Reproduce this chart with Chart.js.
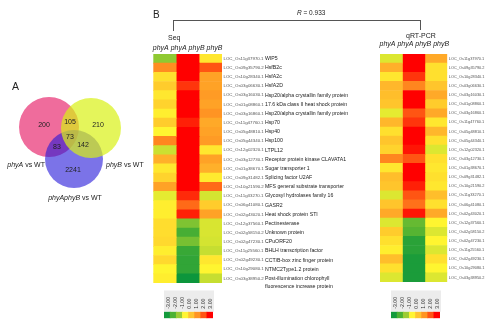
<!DOCTYPE html>
<html>
<head>
<meta charset="utf-8">
<title>phy mutant DEGs</title>
<script src="https://cdn.jsdelivr.net/npm/chart.js@4.4.0/dist/chart.umd.min.js"></script>
<style>
  body { margin: 0; width: 500px; height: 329px; overflow: hidden; background: #fff; position: relative;
         font-family: "Liberation Sans", Arial, sans-serif; color: #222; }
  canvas { position: absolute; }
  .txt { position: absolute; white-space: nowrap; line-height: 1; transform: translateY(-50%); }
  .line { position: absolute; background: #555; }
</style>
</head>
<body>
<canvas id="venn" width="150" height="150" style="left:0;top:60px"></canvas>
<canvas id="seqHeat" width="240" height="270" style="left:140px;top:25px"></canvas>
<canvas id="qpcrHeat" width="130" height="270" style="left:370px;top:25px"></canvas>
<canvas id="seqScale" width="57" height="36" style="left:160px;top:286px"></canvas>
<canvas id="qpcrScale" width="57" height="36" style="left:387px;top:286px"></canvas>

<div class="txt" style="left:12px;top:86px;font-size:10.5px">A</div>
<div class="txt" style="left:153px;top:15px;font-size:10px">B</div>
<div class="txt" style="left:297px;top:13px;font-size:6.5px"><i>R</i> = 0.933</div>
<div class="txt" style="left:168px;top:37px;font-size:7px">Seq</div>
<div class="txt" style="left:406px;top:35px;font-size:7px">qRT-PCR</div>
<div class="line" style="left:173px;top:20px;width:248px;height:1px"></div>
<div class="line" style="left:173px;top:20px;width:1px;height:11px"></div>
<div class="line" style="left:420px;top:20px;width:1px;height:10px"></div>

<script>
// Venn diagram: overlaps of differentially expressed genes
const vennSets = ['phyA vs WT', 'phyB vs WT', 'phyAphyB vs WT'];
const vennRegions = ['phyA only', 'phyA+phyB', 'phyB only', 'all three', 'phyA+phyAphyB', 'phyB+phyAphyB', 'phyAphyB only'];
const vennCounts = [200, 105, 210, 73, 83, 142, 2241];

// Genes shown in the heatmaps
const locusIds = [
  'LOC_Os11g37970.1', 'LOC_Os09g35790.2', 'LOC_Os10g28340.1', 'LOC_Os03g06630.1', 'LOC_Os03g16030.1',
  'LOC_Os01g08860.1', 'LOC_Os03g16860.1', 'LOC_Os11g47760.1', 'LOC_Os05g48810.1', 'LOC_Os05g44340.1',
  'LOC_Os12g02320.1', 'LOC_Os03g12730.1', 'LOC_Os01g38670.1', 'LOC_Os09g31482.1', 'LOC_Os10g21590.2',
  'LOC_Os11g33270.1', 'LOC_Os06g41080.1', 'LOC_Os02g43020.1', 'LOC_Os12g37560.1', 'LOC_Os02g58150.2',
  'LOC_Os02g47230.1', 'LOC_Os11g25560.1', 'LOC_Os02g49230.1', 'LOC_Os10g29080.1', 'LOC_Os03g38950.2'
];
const geneNames = [
  'WIP5', 'HsfB2c', 'HsfA2c', 'HsfA2D', 'Hsp20/alpha crystallin family protein',
  '17.6 kDa class II heat shock protein', 'Hsp20/alpha crystallin family protein', 'Hsp70', 'Hsp40', 'Hsp100',
  'LTPL12', 'Receptor protein kinase CLAVATA1', 'Sugar transporter 1', 'Splicing factor U2AF', 'MFS general substrate transporter',
  'Glycosyl hydrolases family 16', 'GASR2', 'Heat shock protein STI', 'Pectinesterase', 'Unknown protein',
  'CPuORF20', 'BHLH transcription factor', 'CCT/B-box zinc finger protein', 'NTMC2Type1.2 protein',
  ['Post-illumination chlorophyll', 'fluorescence increase protein']
];
const conditions = ['phyA', 'phyA phyB', 'phyB'];

// log2 fold change vs WT (RNA-seq)
const seqPhyA     = [-1.3, 1.5, 0.3, 0.6, 0.2, 0.5, 0.1, 0.6, 0.0, 1.6, -0.6, 1.0, 0.2, 0.5, 1.2, -0.3, 0.1, 0.1, 0.35, 0.35, 0.4, 0.1, 0.4, 0.0, 0.1];
const seqPhyAphyB = [3.0, 3.0, 3.0, 2.5, 3.0, 3.0, 3.0, 2.7, 3.0, 3.0, 3.0, 3.0, 3.0, 3.0, 3.0, 2.6, 2.0, 2.7, -1.5, -2.2, -1.6, -2.4, -2.5, -2.5, -3.0];
const seqPhyB     = [0.2, 2.2, 1.2, 1.2, 1.3, 1.2, 1.4, 1.1, 1.2, 1.3, 0.2, 1.2, 1.0, 0.15, 2.0, -0.5, 0.6, 1.2, -0.45, -0.45, -0.5, -0.65, 0.2, 0.0, -0.65];

// log2 fold change vs WT (qRT-PCR)
const qpcrPhyA     = [-0.4, 1.0, 0.2, 0.9, 0.8, 0.7, -0.3, 0.9, 0.3, 0.7, 0.5, 1.6, 0.2, 0.8, 0.7, -0.4, 0.7, 1.1, -0.4, 0.6, 0.3, 0.1, 0.8, 0.3, -0.4];
const qpcrPhyAphyB = [3.0, 3.0, 2.5, 1.6, 3.0, 3.0, 2.2, 2.5, 3.0, 3.0, 2.8, 2.2, 3.0, 3.0, 2.7, 2.2, 1.9, 2.8, -1.8, -2.0, -2.6, -2.6, -2.8, -2.8, -2.8];
const qpcrPhyB     = [1.1, 0.3, 0.3, 0.7, 1.1, 0.6, 1.1, 0.2, 0.9, 0.3, -0.4, 0.3, 0.2, 0.3, 0.2, 0.8, 0.3, 1.1, 0.0, -0.4, 0.0, -0.4, 0.3, 0.0, -0.4];

// colour key
const keyTicks = ['-3.00', '-2.00', '-1.00', '0.00', '1.00', '2.00', '3.00'];

const FONT = '"Liberation Sans", Arial, sans-serif';

// green - yellow - red ramp
const colorStops = [
  [-3, [12, 150, 60]],
  [-2, [86, 180, 50]],
  [-1, [168, 210, 50]],
  [0, [255, 245, 48]],
  [1, [255, 176, 42]],
  [2, [255, 106, 24]],
  [3, [255, 0, 0]]
];
function cellColor(v) {
  v = Math.max(-3, Math.min(3, v));
  for (let i = 0; i < colorStops.length - 1; i++) {
    const [v0, c0] = colorStops[i];
    const [v1, c1] = colorStops[i + 1];
    if (v <= v1) {
      const t = (v - v0) / (v1 - v0);
      const c = c0.map((x, k) => Math.round(x + (c1[k] - x) * t));
      return `rgb(${c[0]},${c[1]},${c[2]})`;
    }
  }
  return 'rgb(255,0,0)';
}
const swatchColors = ['#139a3c', '#4cb232', '#9ccc34', '#fff533', '#ffc42e', '#ff9422', '#ff5414', '#ff0000'];

// ---- Venn ----
const circleLayout = [
  { x: -0.52, y: 0.16, r: 30 },
  { x: 0.32, y: 0.14, r: 30 },
  { x: -0.02, y: -0.48, r: 29 }
];
const regionLayout = [
  { x: -0.62, y: 0.2 }, { x: -0.1, y: 0.26 }, { x: 0.46, y: 0.2 }, { x: -0.1, y: -0.04 },
  { x: -0.36, y: -0.24 }, { x: 0.16, y: -0.2 }, { x: -0.04, y: -0.7 }
];
const circleFill = ['rgb(239,108,156)', 'rgba(216,241,22,0.7)', 'rgba(35,22,217,0.6)'];
const circleOrder = [2, 0, 1];

const vennCountLabels = {
  id: 'vennCounts',
  afterDatasetsDraw(chart) {
    const { ctx, scales } = chart;
    ctx.save();
    ctx.font = '7px ' + FONT;
    ctx.fillStyle = '#222';
    ctx.textAlign = 'center';
    ctx.textBaseline = 'middle';
    vennCounts.forEach((n, i) => {
      ctx.fillText(String(n), scales.x.getPixelForValue(regionLayout[i].x), scales.y.getPixelForValue(regionLayout[i].y));
    });
    ctx.restore();
  }
};

new Chart(document.getElementById('venn'), {
  type: 'bubble',
  data: {
    datasets: vennSets.map((name, i) => ({
      label: name,
      data: [circleLayout[i]],
      backgroundColor: circleFill[i],
      borderWidth: 0,
      order: circleOrder[i],
      clip: false
    }))
  },
  options: {
    responsive: false,
    animation: false,
    events: [],
    layout: { autoPadding: false, padding: 0 },
    plugins: { legend: { display: false }, tooltip: { enabled: false } },
    scales: {
      x: { min: -1.5, max: 1.5, display: false },
      y: { min: -1.5, max: 1.5, display: false }
    }
  },
  plugins: [vennCountLabels]
});

// set labels around the Venn
const vennLabelPos = [
  'right:455px;top:164px',
  'left:106px;top:164px',
  'left:75px;top:197px;transform:translate(-50%,-50%)'
];
vennSets.forEach((name, i) => {
  const d = document.createElement('div');
  d.className = 'txt';
  d.style.cssText = vennLabelPos[i] + ';font-size:7px';
  d.innerHTML = name.replace(/(phy[AB])/g, '<i>$1</i>');
  document.body.appendChild(d);
});

// ---- Heatmaps ----
function drawHeatmap(id, columns, cfg) {
  const labelPlugin = {
    id: 'rowLabels',
    afterDraw(chart) {
      const { ctx, chartArea, scales } = chart;
      ctx.save();
      ctx.textAlign = 'left';
      ctx.textBaseline = 'middle';
      ctx.fillStyle = '#222';
      ctx.font = 'italic 7px ' + FONT;
      ctx.fillText(conditions.join(' '), chartArea.left - 0.5, cfg.headerY);
      locusIds.forEach((loc, i) => {
        const y = scales.y.getPixelForValue(i);
        ctx.font = cfg.idSize + 'px ' + FONT;
        ctx.fillStyle = '#555';
        ctx.fillText(loc, chartArea.right + 1.5, y);
        if (cfg.names) {
          ctx.font = '5.2px ' + FONT;
          ctx.fillStyle = '#222';
          [].concat(geneNames[i]).forEach((line, k) => {
            ctx.fillText(line, chartArea.right + 43, y + k * 7.7);
          });
        }
      });
      ctx.restore();
    }
  };

  new Chart(document.getElementById(id), {
    type: 'bar',
    data: {
      labels: locusIds,
      datasets: columns.map((vals, c) => ({
        label: conditions[c],
        data: vals.map(() => 1),
        backgroundColor: vals.map(cellColor),
        borderWidth: 0,
        barPercentage: 1,
        categoryPercentage: 1
      }))
    },
    options: {
      indexAxis: 'y',
      responsive: false,
      animation: false,
      events: [],
      layout: { padding: cfg.padding },
      plugins: { legend: { display: false }, tooltip: { enabled: false } },
      scales: {
        x: { stacked: true, min: 0, max: 3, display: false },
        y: { stacked: true, display: false }
      }
    },
    plugins: [labelPlugin]
  });
}

drawHeatmap('seqHeat', [seqPhyA, seqPhyAphyB, seqPhyB], {
  padding: { left: 13.3, top: 29, right: 158, bottom: 12 },
  headerY: 23, idSize: 4.4, names: true
});
drawHeatmap('qpcrHeat', [qpcrPhyA, qpcrPhyAphyB, qpcrPhyB], {
  padding: { left: 10, top: 29, right: 52.7, bottom: 13 },
  headerY: 19, idSize: 3.9, names: false
});

// ---- colour keys ----
function drawKey(id) {
  new Chart(document.getElementById(id), {
    type: 'bar',
    data: {
      labels: swatchColors.map((c, i) => i),
      datasets: [{
        data: swatchColors.map(() => 1),
        backgroundColor: swatchColors,
        borderWidth: 0,
        barPercentage: 1,
        categoryPercentage: 1
      }]
    },
    options: {
      responsive: false,
      animation: false,
      events: [],
      layout: { padding: { left: 4, right: 4, top: 25.7, bottom: 3.7 } },
      plugins: { legend: { display: false }, tooltip: { enabled: false } },
      scales: { x: { display: false }, y: { min: 0, max: 1, display: false } }
    },
    plugins: [{
      id: 'keyTicks',
      beforeDraw(chart) {
        const { ctx, chartArea } = chart;
        ctx.save();
        ctx.fillStyle = '#ececec';
        ctx.fillRect(chartArea.left, 4.5, chartArea.right - chartArea.left + 1, chartArea.top - 4.5);
        ctx.restore();
      },
      afterDraw(chart) {
        const { ctx, chartArea } = chart;
        const w = chartArea.right - chartArea.left;
        ctx.save();
        ctx.font = '5.2px ' + FONT;
        ctx.fillStyle = '#333';
        ctx.textAlign = 'left';
        ctx.textBaseline = 'middle';
        keyTicks.forEach((t, i) => {
          ctx.save();
          ctx.translate(chartArea.left + (i + 0.6) * w / 7, chartArea.top - 3);
          ctx.rotate(-Math.PI / 2);
          ctx.fillText(t, 0, 0);
          ctx.restore();
        });
        ctx.restore();
      }
    }]
  });
}
drawKey('seqScale');
drawKey('qpcrScale');
</script>
</body>
</html>
